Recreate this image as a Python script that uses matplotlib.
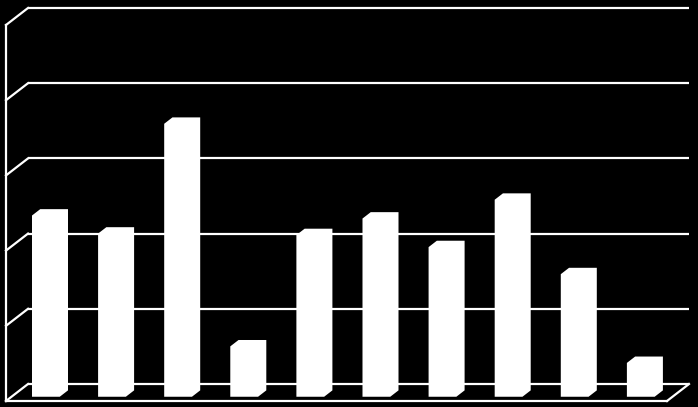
import matplotlib
matplotlib.use("Agg")
import matplotlib.pyplot as plt
from matplotlib.patches import Polygon

# data (value units, one gridline per unit)
categories = ["1", "2", "3", "4", "5", "6", "7", "8", "9", "10"]
values = [2.41, 2.17, 3.63, 0.67, 2.15, 2.37, 1.99, 2.62, 1.63, 0.45]
y_max = 5

# oblique depth vector (data units for depth = 1)
DX = 22 / 66.1
DY = 17 / 75.2
z_front, z_back = 0.25, 0.625
bar_w = 0.42
bar_shift = 0.02

fig = plt.figure(figsize=(6.98, 4.07), dpi=100, facecolor="black")
ax = fig.add_axes([6 / 698, 6 / 407, 661 / 698, 376 / 407])
ax.set_facecolor("black")
ax.set_xlim(-0.5, len(categories) - 0.5)
ax.set_ylim(0, y_max)
ax.axis("off")

left = -0.5
right = len(categories) - 0.5
lc = "white"
lw = 1.6

# back wall gridlines + left diagonals
for k in range(y_max + 1):
    ax.plot([left + DX, right + DX], [k + DY, k + DY], color=lc, lw=lw,
            clip_on=False, solid_capstyle="butt")
    ax.plot([left, left + DX], [k, k + DY], color=lc, lw=lw, clip_on=False)

# left front axis and floor
ax.plot([left, left], [0, y_max], color=lc, lw=lw, clip_on=False)
ax.plot([left, right], [0, 0], color=lc, lw=lw, clip_on=False)
ax.plot([right, right + DX], [0, DY], color=lc, lw=lw, clip_on=False)

# bars as 3D box silhouettes
fdx, fdy = z_front * DX, z_front * DY
bdx, bdy = z_back * DX, z_back * DY
for i, v in enumerate(values):
    x0 = i + bar_shift - bar_w / 2
    x1 = i + bar_shift + bar_w / 2
    pts = [
        (x0 + fdx, fdy),
        (x0 + fdx, v + fdy),
        (x0 + bdx, v + bdy),
        (x1 + bdx, v + bdy),
        (x1 + bdx, bdy),
        (x1 + fdx, fdy),
    ]
    ax.add_patch(Polygon(pts, closed=True, facecolor="white",
                         edgecolor="none", zorder=3, clip_on=False))

fig.savefig("out.png", dpi=100, facecolor="black")
